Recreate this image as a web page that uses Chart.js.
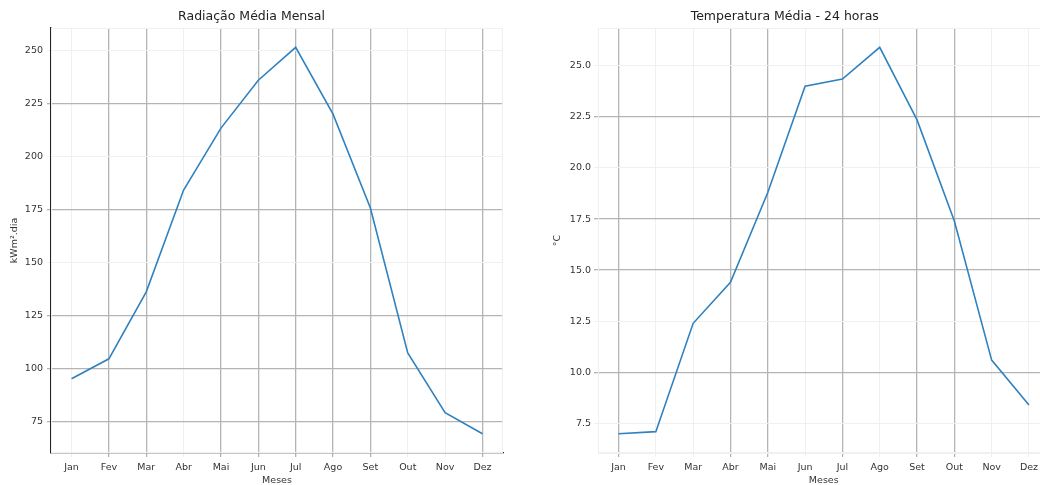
<!DOCTYPE html>
<html>
<head>
<meta charset="utf-8">
<script src="https://cdn.jsdelivr.net/npm/chart.js@4/dist/chart.umd.min.js"></script>
<style>
  html, body { margin:0; padding:0; background:#fff; width:1040px; height:485px; overflow:hidden; }
  #c1 { position:absolute; left:0; top:0; }
  #c2 { position:absolute; left:520px; top:0; }
</style>
</head>
<body>
<canvas id="c1" width="520" height="485"></canvas>
<canvas id="c2" width="545" height="485"></canvas>
<script>
// ---- data ----
const months = ['Jan','Fev','Mar','Abr','Mai','Jun','Jul','Ago','Set','Out','Nov','Dez'];
const radiacao = [95.1, 104.5, 136.1, 184.1, 213.3, 235.9, 251.4, 219.9, 175.6, 107.3, 79.1, 69.2];
const temperatura = [7.0, 7.1, 12.4, 14.4, 18.8, 24.0, 24.35, 25.9, 22.35, 17.4, 10.6, 8.4];
const radTicks = [75, 100, 125, 150, 175, 200, 225, 250];
const tempTicks = [7.5, 10.0, 12.5, 15.0, 17.5, 20.0, 22.5, 25.0];

// ---- style (grid emphasis pattern seen in the picture) ----
const radXDark = [1,2,4,5,6,7,8,11];
const radYDark = [75,100,125,175,225];
const tempXDark = [0,3,4,6,8,9];
const tempYDark = [10.0,15.0,17.5,22.5];
const DARK = '#b4b4b4', FAINT = '#f0f0f0', TXT = '#333333';
const LINE = '#2f82bf';
const FONT = "'DejaVu Sans', sans-serif";

function limits(arr){ const mn=Math.min(...arr), mx=Math.max(...arr), m=(mx-mn)*0.05; return [mn-m, mx+m]; }

const frame = color => ({
  id:'frame',
  beforeDatasetsDraw(chart){
    const {ctx, chartArea:a} = chart;
    ctx.save(); ctx.strokeStyle = color; ctx.lineWidth = 1;
    ctx.strokeRect(a.left+0.5, a.top+0.5, a.right-a.left-1, a.bottom-a.top-1);
    ctx.restore();
  }
});

function makeChart(id, opts){
  const [ymin, ymax] = limits(opts.values);
  const n = opts.labels.length;
  const xm = (n-1)*0.05;
  return new Chart(document.getElementById(id), {
    type:'line',
    data:{ datasets:[{
      data: opts.values.map((v,i)=>({x:i, y:v})),
      borderColor: LINE, borderWidth: 1.6, pointRadius:0, tension:0, fill:false
    }]},
    options:{
      responsive:false, animation:false, devicePixelRatio:1,
      layout:{ padding:{ left:0, right:opts.padRight, top:0, bottom:0 } },
      plugins:{
        legend:{display:false}, tooltip:{enabled:false},
        title:{ display:true, text:opts.title, color:'#222',
          font:{family:FONT, size:12.5, weight:'normal', lineHeight:'13px'},
          padding:{top:10, bottom:5} }
      },
      scales:{
        x:{
          type:'linear', min:-xm, max:(n-1)+xm,
          afterBuildTicks: s => { s.ticks = opts.labels.map((_,i)=>({value:i})); },
          afterFit: s => { s.height = 32; },
          ticks:{ callback: v => opts.labels[v], color:TXT, font:{family:FONT, size:9.5}, padding:5, maxRotation:0, autoSkip:false },
          grid:{ color: c => opts.xDark.includes(c.index) ? DARK : FAINT,
                 lineWidth: c => opts.xDark.includes(c.index) ? 1.3 : 1,
                 tickLength:4 },
          border:{ color: opts.border, width: opts.borderWidth },
          title:{ display:true, text:'Meses', color:TXT, font:{family:FONT, size:9.5}, padding:{top:0,bottom:-1} }
        },
        y:{
          type:'linear', min:ymin, max:ymax,
          afterBuildTicks: s => { s.ticks = opts.ticks.map(v=>({value:v})); },
          afterFit: s => { s.width = opts.yWidth; },
          ticks:{ callback: v => opts.fmt(v), color:TXT, font:{family:FONT, size:9.5}, padding:opts.yPad },
          grid:{ color: c => opts.yDark.includes(c.tick.value) ? DARK : FAINT,
                 lineWidth: c => opts.yDark.includes(c.tick.value) ? 1.3 : 1,
                 tickLength:4 },
          border:{ color: opts.border, width: opts.borderWidth },
          title:{ display:true, text:opts.yTitle, color:TXT, font:{family:FONT, size:9.5}, padding:{top:opts.yTitlePad, bottom:0} }
        }
      }
    },
    plugins:[frame(FAINT)]
  });
}

makeChart('c1', {
  labels: months, values: radiacao, ticks: radTicks, title:'Radiação Média Mensal',
  yTitle:'kWm².dia', fmt: v => String(Math.round(v)),
  xDark: radXDark, yDark: radYDark, border:'#222', borderWidth:1.3,
  yWidth:51, padRight:17, yPad:4, yTitlePad:9
});
makeChart('c2', {
  labels: months, values: temperatura, ticks: tempTicks, title:'Temperatura Média - 24 horas',
  yTitle:'°C', fmt: v => v.toFixed(1),
  xDark: tempXDark, yDark: tempYDark, border:FAINT, borderWidth:1,
  yWidth:78, padRight:15.5, yPad:3, yTitlePad:32
});
</script>
</body>
</html>
